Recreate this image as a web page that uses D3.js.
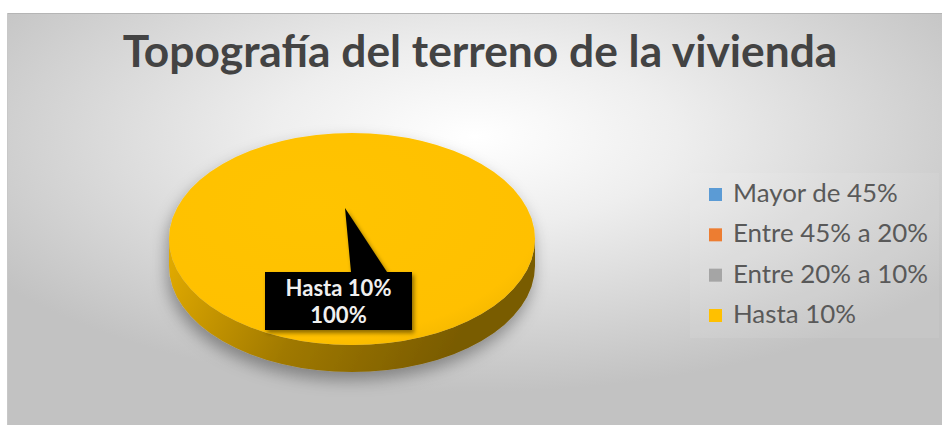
<!DOCTYPE html>
<html>
<head>
<meta charset="utf-8">
<script src="https://cdn.jsdelivr.net/npm/d3@7"></script>
<style>
  html, body { margin: 0; padding: 0; background: #ffffff; }
  svg { display: block; }
</style>
</head>
<body>
<svg id="chart" width="942" height="425"></svg>
<script>
// Chart data
const title = "Topografía del terreno de la vivienda";
const categories = ["Mayor de 45%", "Entre 45% a 20%", "Entre 20% a 10%", "Hasta 10%"];
const values = [0, 0, 0, 100];
const colors = ["#5B9BD5", "#ED7D31", "#A5A5A5", "#FFC000"];

const W = 942, H = 425;
const svg = d3.select("#chart");
const defs = svg.append("defs");

// Fit a text selection's font size so a given node spans the target width
function fitWidth(sel, node, base, target) {
  const w = node.getComputedTextLength();
  sel.attr("font-size", base * target / w);
}

// Chart area background: soft radial light, grey towards the edges
const bg = defs.append("radialGradient").attr("id", "bgGrad")
  .attr("cx", "0.5").attr("cy", "0.3").attr("r", "0.62");
bg.append("stop").attr("offset", "0").attr("stop-color", "#ffffff");
bg.append("stop").attr("offset", "0.35").attr("stop-color", "#eeeeee");
bg.append("stop").attr("offset", "1").attr("stop-color", "#c2c2c2");

const frame = { x: 7, y: 13, w: W - 7, h: H - 13 };
svg.append("rect")
  .attr("x", frame.x).attr("y", frame.y)
  .attr("width", frame.w).attr("height", frame.h)
  .attr("fill", "url(#bgGrad)");
svg.append("line")
  .attr("x1", frame.x).attr("x2", W).attr("y1", frame.y + 0.5).attr("y2", frame.y + 0.5)
  .attr("stroke", "#b5b5b5");
svg.append("line")
  .attr("x1", frame.x + 0.5).attr("x2", frame.x + 0.5).attr("y1", frame.y).attr("y2", H)
  .attr("stroke", "#c8c8c8");

// Title, sized to span its slot
const titleText = svg.append("text")
  .attr("x", 480).attr("y", 67)
  .attr("text-anchor", "middle")
  .attr("font-family", "Lato, 'Open Sans', sans-serif")
  .attr("font-weight", 700)
  .attr("font-size", 36)
  .attr("fill", "#434343")
  .text(title);
fitWidth(titleText, titleText.node(), 36, 715);

// Pie geometry (3D ellipse)
const cx = 352, cy = 239, rx = 183, ry = 106, depth = 27;
const pie = d3.pie().sort(null).value(d => d);
const arcsData = pie(values);
const total = d3.sum(values);

const pt = (a, dy = 0) => [cx + rx * Math.sin(a), cy - ry * Math.cos(a) + dy];

// Filters
const sh = defs.append("filter").attr("id", "pieShadow")
  .attr("x", "-20%").attr("y", "-20%").attr("width", "140%").attr("height", "150%");
sh.append("feDropShadow").attr("dx", -2).attr("dy", 8).attr("stdDeviation", 8)
  .attr("flood-color", "#000").attr("flood-opacity", 0.35);

const bsh = defs.append("filter").attr("id", "boxShadow")
  .attr("x", "-20%").attr("y", "-20%").attr("width", "140%").attr("height", "150%");
bsh.append("feDropShadow").attr("dx", 2).attr("dy", 3).attr("stdDeviation", 2)
  .attr("flood-color", "#000").attr("flood-opacity", 0.45);

// Side and top gradients per slice colour
colors.forEach((c, i) => {
  const g = defs.append("linearGradient").attr("id", "side" + i)
    .attr("gradientUnits", "userSpaceOnUse")
    .attr("x1", cx - rx).attr("y1", cy)
    .attr("x2", cx + rx * 0.5).attr("y2", cy + ry + depth);
  g.append("stop").attr("offset", "0").attr("stop-color", d3.color(c).darker(0.3));
  g.append("stop").attr("offset", "0.5").attr("stop-color", d3.color(c).darker(1.3));
  g.append("stop").attr("offset", "1").attr("stop-color", d3.color(c).darker(2.1));

  const t = defs.append("radialGradient").attr("id", "top" + i)
    .attr("cx", "0.4").attr("cy", "0.35").attr("r", "0.7");
  t.append("stop").attr("offset", "0").attr("stop-color", d3.color(c).brighter(0.06));
  t.append("stop").attr("offset", "0.88").attr("stop-color", c);
  t.append("stop").attr("offset", "1").attr("stop-color", d3.color(c).darker(0.1));
});

const pieG = svg.append("g").attr("filter", "url(#pieShadow)");

// Visible front wall of each slice (angles between 3 and 9 o'clock)
const sideG = pieG.append("g");
arcsData.forEach((d, i) => {
  if (d.value <= 0) return;
  const a = Math.max(d.startAngle, Math.PI / 2);
  const b = Math.min(d.endAngle, 3 * Math.PI / 2);
  if (b <= a) return;
  const p0 = pt(a), p1 = pt(b), q1 = pt(b, depth), q0 = pt(a, depth);
  const large = (b - a) > Math.PI ? 1 : 0;
  const path = `M${p0[0]},${p0[1]} A${rx},${ry} 0 ${large} 1 ${p1[0]},${p1[1]}` +
    ` L${q1[0]},${q1[1]} A${rx},${ry} 0 ${large} 0 ${q0[0]},${q0[1]} Z`;
  sideG.append("path").attr("d", path).attr("fill", `url(#side${i})`);
});

// Top faces drawn with d3.arc, squashed into an ellipse
const arc = d3.arc().innerRadius(0).outerRadius(rx);
pieG.append("g")
  .attr("transform", `translate(${cx},${cy}) scale(1,${ry / rx})`)
  .selectAll("path")
  .data(arcsData.filter(d => d.value > 0))
  .join("path")
  .attr("d", arc)
  .attr("fill", d => `url(#top${d.index})`);

// Callout data label
const fmtPct = d3.format(".0%");
arcsData.filter(d => d.value > 0).forEach(d => {
  const tip = [cx - 7, cy - 31];
  const box = { x: 265, y: 272, w: 147, h: 58 };
  const callout = svg.append("g").attr("filter", "url(#boxShadow)");
  callout.append("path")
    .attr("d", `M${box.x},${box.y} L${box.x + 86},${box.y} L${tip[0]},${tip[1]} ` +
      `L${box.x + 122},${box.y} L${box.x + box.w},${box.y} L${box.x + box.w},${box.y + box.h} ` +
      `L${box.x},${box.y + box.h} Z`)
    .attr("fill", "#000000");
  const tx = svg.append("text")
    .attr("text-anchor", "middle")
    .attr("font-family", "Lato, 'Open Sans', sans-serif")
    .attr("font-weight", 700)
    .attr("font-size", 18)
    .attr("fill", "#f0f0f0");
  const l1 = tx.append("tspan").attr("x", box.x + box.w / 2).attr("y", 296).text(categories[d.index]);
  tx.append("tspan").attr("x", box.x + box.w / 2).attr("y", 323).text(fmtPct(d.value / total));
  fitWidth(tx, l1.node(), 18, 106);
});

// Legend
svg.append("rect")
  .attr("x", 690).attr("y", 173).attr("width", 249).attr("height", 165)
  .attr("fill", "#ffffff").attr("opacity", 0.08);

const legendY = d3.scalePoint().domain(categories).range([202, 323]);
const legend = svg.append("g").selectAll("g")
  .data(categories)
  .join("g")
  .attr("transform", d => `translate(0,${legendY(d)})`);
legend.append("rect")
  .attr("x", 709).attr("y", -14).attr("width", 13).attr("height", 13)
  .attr("fill", (d, i) => colors[i]);
const legendText = legend.append("text")
  .attr("x", 733).attr("y", 0)
  .attr("font-family", "Lato, 'Open Sans', sans-serif")
  .attr("font-size", 21)
  .attr("fill", "#595959")
  .text(d => d);
fitWidth(legendText, legendText.nodes()[1], 21, 195);
</script>
</body>
</html>
